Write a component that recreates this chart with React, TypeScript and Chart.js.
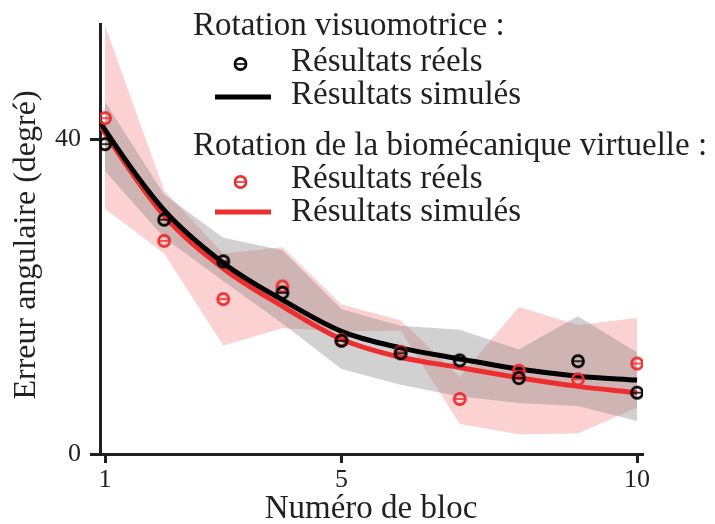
import React, { useEffect, useRef } from 'react';
import { Chart, registerables } from 'chart.js';

Chart.register(...registerables);

// ---- Data ----
const blocks = [1, 2, 3, 4, 5, 6, 7, 8, 9, 10];
const visuoReal = [39.4, 29.8, 24.5, 20.5, 14.4, 12.8, 11.9, 9.65, 11.8, 7.8];
const bioReal = [42.7, 27.1, 19.7, 21.3, 14.5, 13.0, 7.0, 10.6, 9.5, 11.5];

const curveX = [0.92, 1, 2, 3, 4, 5, 6, 7, 8, 9, 10];
const visuoSim = [42.2, 41.2, 31.0, 24.3, 19.6, 15.6, 13.5, 12.1, 10.8, 9.9, 9.4];
const bioSim = [41.8, 40.8, 30.3, 23.6, 18.8, 14.6, 12.3, 11.0, 9.7, 8.6, 7.8];

const visuoBandUpper = [44.8, 33.0, 27.5, 25.9, 18.4, 16.3, 15.8, 13.3, 17.5, 12.9];
const visuoBandLower = [36.0, 27.5, 22.0, 16.6, 10.8, 8.8, 7.3, 6.5, 6.1, 4.2];
const bioBandUpper = [54.5, 33.5, 25.5, 26.3, 19.0, 17.0, 9.8, 18.7, 16.4, 17.3];
const bioBandLower = [31.2, 25.5, 13.8, 16.0, 15.6, 15.7, 3.8, 2.5, 2.6, 5.9];

const xTicks = [1, 5, 10];
const yTicks = [0, 40];

const xTitle = 'Numéro de bloc';
const yTitle = 'Erreur angulaire (degré)';
const groupTitle1 = 'Rotation visuomotrice :';
const groupTitle2 = 'Rotation de la biomécanique virtuelle :';
const labelReal = 'Résultats réels';
const labelSim = 'Résultats simulés';

const BLACK = '#000000';
const RED = 'rgb(238,46,46)';
const TEXT = '#231f20';
const AXIS = '#231f20';
const FONT = '"Liberation Serif", "Times New Roman", serif';

function xy(xs: number[], ys: number[]) {
  return xs.map((x, i) => ({ x, y: ys[i] }));
}

function drawMarker(ctx: CanvasRenderingContext2D, x: number, y: number, color: string) {
  ctx.save();
  ctx.strokeStyle = color;
  ctx.lineWidth = 2.6;
  ctx.beginPath();
  ctx.arc(x, y, 5.6, 0, Math.PI * 2);
  ctx.stroke();
  ctx.lineWidth = 1.6;
  ctx.beginPath();
  ctx.moveTo(x - 5.6, y);
  ctx.lineTo(x + 5.6, y);
  ctx.stroke();
  ctx.restore();
}

function makeMarker(color: string) {
  const c = document.createElement('canvas');
  c.width = 18;
  c.height = 18;
  const ctx = c.getContext('2d')!;
  drawMarker(ctx, 9, 9, color);
  return c;
}

const overlayPlugin = {
  id: 'overlayText',
  afterDraw(chart: any) {
    const ctx = chart.ctx as CanvasRenderingContext2D;
    ctx.save();
    ctx.fillStyle = TEXT;
    ctx.textBaseline = 'alphabetic';
    ctx.textAlign = 'left';
    ctx.font = `33px ${FONT}`;
    // legend
    ctx.fillText(groupTitle1, 193, 35);
    drawMarker(ctx, 240.5, 64, BLACK);
    ctx.fillText(labelReal, 291, 71);
    ctx.fillStyle = BLACK;
    ctx.fillRect(215, 94.5, 56, 5);
    ctx.fillStyle = TEXT;
    ctx.fillText(labelSim, 291, 104);

    ctx.fillText(groupTitle2, 193, 155);
    drawMarker(ctx, 240.5, 182, RED);
    ctx.fillText(labelReal, 291, 188);
    ctx.fillStyle = RED;
    ctx.fillRect(215, 209.5, 56, 5);
    ctx.fillStyle = TEXT;
    ctx.fillText(labelSim, 291, 221);

    // axis titles
    ctx.textAlign = 'center';
    ctx.fillText(xTitle, 371, 518);
    ctx.save();
    ctx.translate(35, 245);
    ctx.rotate(-Math.PI / 2);
    ctx.font = `32px ${FONT}`;
    ctx.fillText(yTitle, 0, 0);
    ctx.restore();
    ctx.restore();
  },
};

export default function App() {
  const ref = useRef<HTMLCanvasElement | null>(null);

  useEffect(() => {
    if (!ref.current) return;
    const blackMarker = makeMarker(BLACK);
    const redMarker = makeMarker(RED);

    const bandCommon = {
      borderWidth: 0,
      pointRadius: 0,
      tension: 0,
      type: 'line' as const,
    };

    const chart = new Chart(ref.current, {
      type: 'line',
      data: {
        datasets: [
          {
            label: 'visuoReal',
            data: xy(blocks, visuoReal),
            showLine: false,
            pointStyle: blackMarker as any,
            pointRadius: 7,
            borderColor: BLACK,
            backgroundColor: BLACK,
          },
          {
            label: 'bioReal',
            data: xy(blocks, bioReal),
            showLine: false,
            pointStyle: redMarker as any,
            pointRadius: 7,
            borderColor: RED,
            backgroundColor: RED,
          },
          {
            label: 'visuoSim',
            data: xy(curveX, visuoSim),
            borderColor: BLACK,
            borderWidth: 5,
            pointRadius: 0,
            cubicInterpolationMode: 'monotone',
            fill: false,
          },
          {
            label: 'bioSim',
            data: xy(curveX, bioSim),
            borderColor: RED,
            borderWidth: 5,
            pointRadius: 0,
            cubicInterpolationMode: 'monotone',
            fill: false,
          },
          {
            ...bandCommon,
            label: 'visuoBandUpper',
            data: xy(blocks, visuoBandUpper),
            backgroundColor: 'rgba(128,128,128,0.36)',
            fill: '+1',
          },
          {
            ...bandCommon,
            label: 'visuoBandLower',
            data: xy(blocks, visuoBandLower),
            fill: false,
          },
          {
            ...bandCommon,
            label: 'bioBandUpper',
            data: xy(blocks, bioBandUpper),
            backgroundColor: 'rgba(238,46,46,0.22)',
            fill: '+1',
          },
          {
            ...bandCommon,
            label: 'bioBandLower',
            data: xy(blocks, bioBandLower),
            fill: false,
          },
        ] as any,
      },
      options: {
        animation: false,
        responsive: true,
        maintainAspectRatio: false,
        layout: { padding: { top: 13, right: 72, left: 0, bottom: 0 } },
        plugins: {
          legend: { display: false },
          tooltip: { enabled: false },
        },
        scales: {
          x: {
            type: 'linear',
            min: 0.915,
            max: 10.1,
            afterFit: (s: any) => {
              s.height = 70;
            },
            afterBuildTicks: (s: any) => {
              s.ticks = xTicks.map((v) => ({ value: v }));
            },
            grid: {
              drawOnChartArea: false,
              drawTicks: true,
              tickLength: 9,
              tickWidth: 3,
              tickColor: AXIS,
            },
            border: { display: true, width: 3, color: AXIS },
            ticks: {
              color: TEXT,
              padding: 2,
              maxRotation: 0,
              autoSkip: false,
              font: { family: FONT, size: 26 },
            },
          },
          y: {
            type: 'linear',
            min: 0,
            max: 54.6,
            afterFit: (s: any) => {
              s.width = 100;
            },
            afterBuildTicks: (s: any) => {
              s.ticks = yTicks.map((v) => ({ value: v }));
            },
            grid: {
              drawOnChartArea: false,
              drawTicks: true,
              tickLength: 10,
              tickWidth: 3,
              tickColor: AXIS,
            },
            border: { display: true, width: 3, color: AXIS },
            ticks: {
              color: TEXT,
              padding: 9,
              autoSkip: false,
              font: { family: FONT, size: 26 },
            },
          },
        },
      },
      plugins: [overlayPlugin],
    });

    return () => chart.destroy();
  }, []);

  return (
    <div
      style={{
        position: 'fixed',
        left: 0,
        top: 0,
        width: 715,
        height: 524,
        background: '#ffffff',
      }}
    >
      <canvas ref={ref} />
    </div>
  );
}
